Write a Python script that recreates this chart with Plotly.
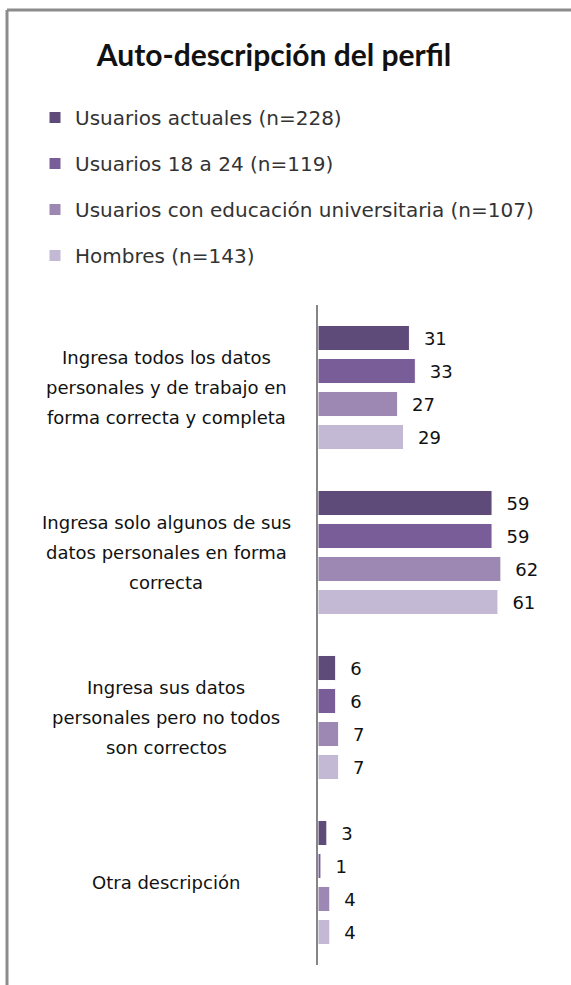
import plotly.graph_objects as go


# ---------------------------------
# DATA
# ---------------------------------

categories = [
    "Ingresa todos los datos personales y de trabajo en forma correcta y completa",
    "Ingresa solo algunos de sus datos personales en forma correcta",
    "Ingresa sus datos personales pero no todos son correctos",
    "Otra descripción",
]

category_lines = [
    ["Ingresa todos los datos", "personales y de trabajo en", "forma correcta y completa"],
    ["Ingresa solo algunos de sus", "datos personales en forma", "correcta"],
    ["Ingresa sus datos", "personales pero no todos", "son correctos"],
    ["Otra descripción"],
]

series_names = [
    "Usuarios actuales (n=228)",
    "Usuarios 18 a 24 (n=119)",
    "Usuarios con educación universitaria (n=107)",
    "Hombres (n=143)",
]

actuales = [31, 59, 6, 3]
jovenes = [33, 59, 6, 1]
universitarios = [27, 62, 7, 4]
hombres = [29, 61, 7, 4]

series_values = [actuales, jovenes, universitarios, hombres]

colors = ["#5f4b7a", "#785d98", "#9d88b4", "#c3b9d4"]


# ---------------------------------
# LAYOUT CONSTANTS (pixels)
# ---------------------------------

W, H = 571, 985
L, R, T, B = 318, 0, 305, 20
PW = W - L - R
PH = H - T - B
TITLE_FONT = "Lato, sans-serif"
FONT = "DejaVu Sans, sans-serif"


def px_x(x):
    return (x - L) / PW


def px_y(y):
    return (H - B - y) / PH


fig = go.Figure()

for name, vals, col in zip(series_names, series_values, colors):
    fig.add_trace(go.Bar(
        y=categories,
        x=vals,
        name=name,
        orientation="h",
        legendgroup=name,
        marker=dict(color=col, line=dict(color="white", width=1)),
        text=vals,
        texttemplate="\u00a0\u00a0%{x}",
        textposition="outside",
        textfont=dict(size=18, color="#111111", family=FONT),
        cliponaxis=False,
    ))

# category labels, centred to the left of the axis
annotations = []
for cat, lines in zip(categories, category_lines):
    n = len(lines)
    for i, line in enumerate(lines):
        annotations.append(dict(
            x=px_x(166),
            xref="paper",
            y=cat,
            yref="y",
            text=line,
            showarrow=False,
            xanchor="center",
            yanchor="middle",
            yshift=((n - 1) / 2 - i) * 30,
            font=dict(size=18, color="#111111", family=FONT),
        ))

fig.update_layout(
    width=W,
    height=H,
    margin=dict(l=L, r=R, t=T, b=B),
    paper_bgcolor="white",
    plot_bgcolor="white",
    font=dict(family=FONT, color="#111111"),
    title=dict(
        text="<b>Auto-descripción del perfil</b>",
        x=274 / W,
        xref="container",
        xanchor="center",
        y=1 - 55 / H,
        yanchor="middle",
        yref="container",
        font=dict(size=30, family=TITLE_FONT, color="#111111"),
    ),
    barmode="group",
    bargap=0.2,
    bargroupgap=0.24,
    legend=dict(
        orientation="v",
        x=px_x(35),
        xanchor="left",
        y=px_y(98),
        yanchor="top",
        font=dict(size=20, family=FONT, color="#333333"),
        tracegroupgap=17,
        itemwidth=30,
        bgcolor="rgba(0,0,0,0)",
    ),
    annotations=annotations,
    showlegend=True,
)

fig.update_xaxes(
    range=[0, PW / 2.95],
    visible=False,
)

fig.update_yaxes(
    autorange="reversed",
    showticklabels=False,
    showline=True,
    linecolor="#868686",
    linewidth=2,
    showgrid=False,
    ticks="",
)

# outer frame (left and top edges only, as in the crop)
frame = dict(type="line", xref="paper", yref="paper",
             line=dict(color="#8c8c8c", width=3))
fig.add_shape(frame, x0=px_x(7), x1=px_x(7), y0=px_y(10), y1=px_y(H + 5))
fig.add_shape(frame, x0=px_x(7), x1=px_x(W + 5), y0=px_y(10), y1=px_y(10))

fig.write_html(
    "out.html",
    config={"displayModeBar": False},
    post_script="document.body.style.margin='0';",
)
